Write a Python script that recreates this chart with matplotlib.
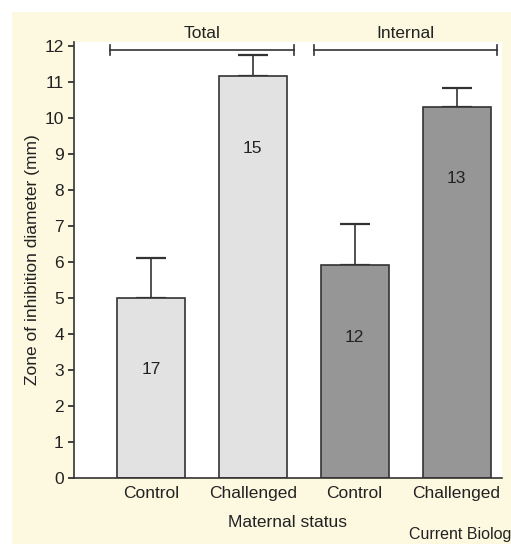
import matplotlib
matplotlib.use("Agg")
import matplotlib.pyplot as plt
from matplotlib.patches import Rectangle

categories = ["Control", "Challenged", "Control", "Challenged"]
means = [5.0, 11.17, 5.92, 10.29]
errors = [1.1, 0.56, 1.12, 0.52]
sample_sizes = ["17", "15", "12", "13"]
label_y = [3.0, 9.15, 3.9, 8.3]
groups = ["Total", "Internal"]
bar_colors = ["#e2e2e2", "#e2e2e2", "#969696", "#969696"]

FS = 12.5
plt.rcParams["font.family"] = ["Liberation Sans", "DejaVu Sans"]
plt.rcParams["font.size"] = FS

W, H = 511, 544
fig = plt.figure(figsize=(W / 100, H / 100), dpi=100, facecolor="white")
fig.patches.append(Rectangle((12 / W, 0), 1 - 12 / W, 1 - 12 / H,
                             transform=fig.transFigure, facecolor="#fdf9e1",
                             edgecolor="none", zorder=-10))

ax = fig.add_axes([74 / W, 1 - 478 / H, (502 - 74) / W, (478 - 42) / H])
ax.set_zorder(5)
ax.set_facecolor("white")
x = list(range(len(categories)))
ax.bar(x, means, width=0.667, color=bar_colors, edgecolor="#333333",
       linewidth=1.2, zorder=2)
ax.errorbar(x, means, yerr=[[0] * len(errors), errors], fmt="none",
            ecolor="#333333", elinewidth=1.2, capsize=10.5, capthick=1.6,
            zorder=1)
for xi, t, ly in zip(x, sample_sizes, label_y):
    ax.text(xi, ly, t, ha="center", va="center", fontsize=FS, color="#222222")

ax.set_xlim(-0.755, 3.446)
ax.set_ylim(0, 12.1)
ax.set_yticks(range(0, 13))
ax.set_xticks(x)
ax.set_xticklabels(categories)
ax.tick_params(axis="x", length=0, pad=5.5, colors="#222222", labelsize=FS)
ax.tick_params(axis="y", length=4.3, width=1.2, direction="out", colors="#222222",
               pad=3, labelsize=FS)
for s in ["top", "right"]:
    ax.spines[s].set_visible(False)
for s in ["left", "bottom"]:
    ax.spines[s].set_color("#333333")
    ax.spines[s].set_linewidth(1.2)
ax.set_xlabel("Maternal status", labelpad=10.5, color="#222222", fontsize=FS)
ax.set_ylabel("Zone of inhibition diameter (mm)", labelpad=3, color="#222222",
              fontsize=FS)

# group brackets
bracket_y = 11.87
for (x0, x1), g in zip([(-0.4, 1.4), (1.6, 3.4)], groups):
    ax.plot([x0, x1], [bracket_y, bracket_y], color="#333333", lw=1.2,
            clip_on=False, zorder=3)
    for xe in (x0, x1):
        ax.plot([xe, xe], [bracket_y - 0.14, bracket_y + 0.14], color="#333333",
                lw=1.2, clip_on=False, zorder=3)
    ax.text((x0 + x1) / 2, 12.33, g, ha="center", va="center",
            fontsize=FS, color="#222222")

fig.text(409 / W, 1 - 535 / H, "Current Biolog", ha="left", va="center",
         fontsize=11.5, color="#222222")

fig.savefig("out.png", dpi=100, facecolor="white")
